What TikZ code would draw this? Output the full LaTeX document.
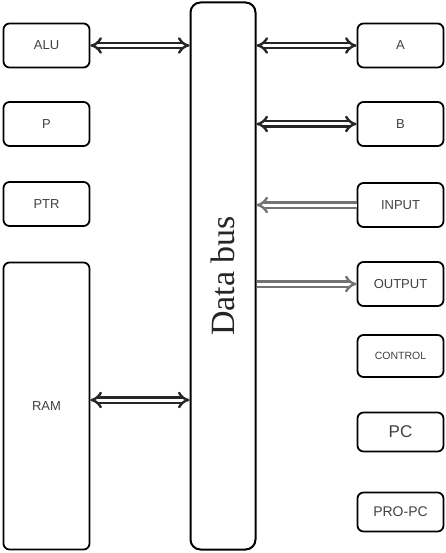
\documentclass[tikz,border=0pt]{standalone}
\usepackage{fontspec}
\setmainfont{Liberation Serif}
\setsansfont{Liberation Sans}
\usetikzlibrary{arrows.meta}

\begin{document}
\begin{tikzpicture}[x=1pt, y=-1pt,
  unit/.style={draw, line width=1.8pt, rounded corners=6pt, minimum width=86pt, minimum height=44pt, inner sep=0pt, text=black!75, font=\sffamily\fontsize{13}{13}\selectfont},
  busbox/.style={draw, line width=2pt, rounded corners=10pt, minimum width=547pt, minimum height=65pt, rotate=90, text=black!85, font=\fontsize{34}{34}\selectfont},
  link/.style={double=white, double distance=3pt, line width=2.4pt, draw=black!85},
  both/.style={link, {Implies[scale=0.55]}-{Implies[scale=0.55]}},
  tobus/.style={link, draw=black!55, -{Implies[scale=0.55]}}
]
  \useasboundingbox (0,0) rectangle (446,553);

  % the bus
  \node[busbox] (bus) at (223, 276) {Data bus};

  % left column
  \node[unit] (alu) at (46.5, 45.5) {ALU};
  \node[unit] (p) at (46.5, 124) {P};
  \node[unit] (ptr) at (46.5, 204) {PTR};
  \node[unit, minimum height=287pt] (ram) at (46.5, 406) {RAM};

  % right column
  \node[unit] (a) at (400.5, 45.5) {A};
  \node[unit] (b) at (400.5, 124) {B};
  \node[unit] (in) at (400.5, 205) {INPUT};
  \node[unit] (out) at (400.5, 284) {OUTPUT};
  \node[unit, minimum height=42pt, font=\sffamily\fontsize{10.5}{10.5}\selectfont] (ctl) at (400.5, 356) {CONTROL};
  \node[unit, minimum height=39pt, font=\sffamily\fontsize{17}{17}\selectfont] (pc) at (400.5, 432) {PC};
  \node[unit, minimum height=39pt, font=\sffamily\fontsize{14}{14}\selectfont] (ppc) at (400.5, 512) {PRO-PC};

  % links
  \draw[both] (alu.east) -- (alu -| bus.north);
  \draw[both] (a.west) -- (a -| bus.south);
  \draw[both] (b.west) -- (b -| bus.south);
  \draw[tobus] (in.west) -- (in -| bus.south);
  \draw[tobus] (out -| bus.south) -- (out.west);
  \draw[both] ([yshift=6pt]ram.east) -- ([yshift=6pt]ram.east -| bus.north);
\end{tikzpicture}
\end{document}
